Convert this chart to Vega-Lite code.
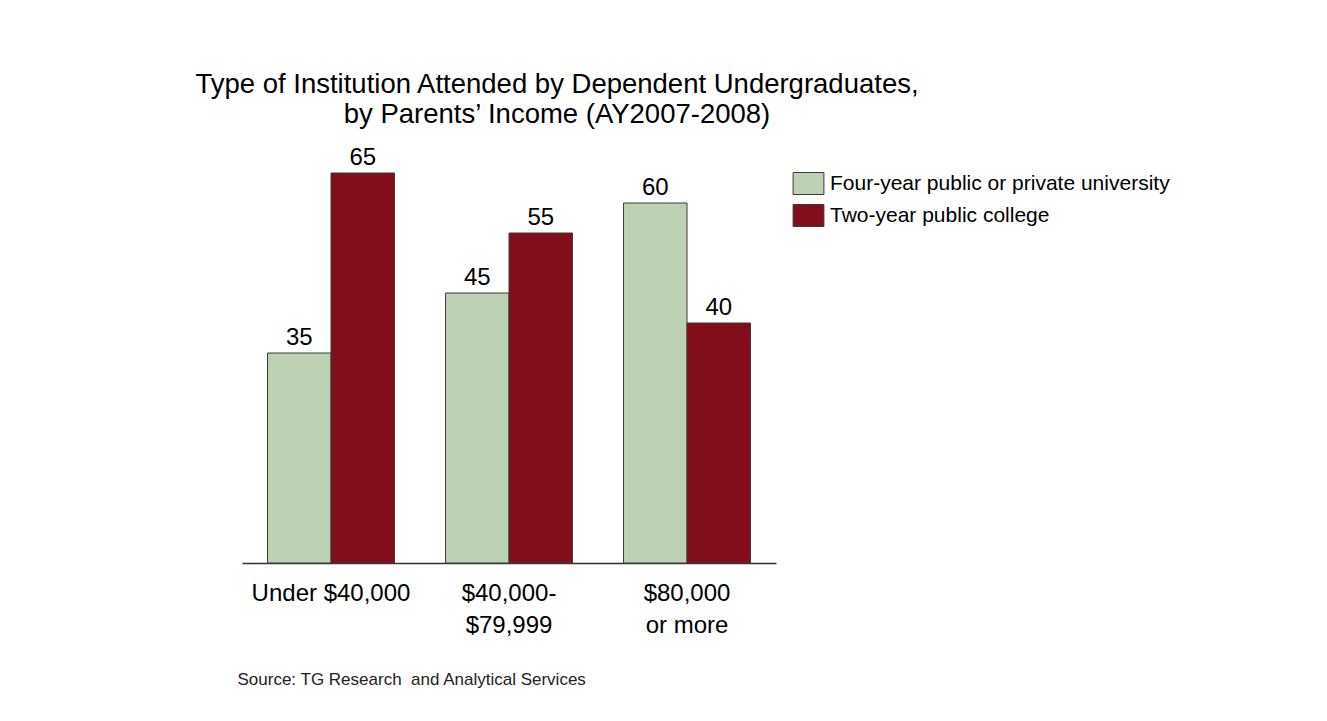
{
  "$schema": "https://vega.github.io/schema/vega-lite/v6.json",
  "autosize": "none",
  "width": 534,
  "height": 420,
  "padding": {"left": 242, "top": 143, "right": 551, "bottom": 158},
  "background": "white",
  "title": {
    "text": ["Type of Institution Attended by Dependent Undergraduates,", "by Parents’ Income (AY2007-2008)"],
    "font": "Liberation Sans",
    "fontSize": 27.5,
    "fontWeight": "normal",
    "color": "#000000",
    "lineHeight": 30,
    "anchor": "middle",
    "frame": "group",
    "dx": 48,
    "offset": 15
  },
  "data": {
    "values": [
      {"income": "Under $40,000", "type": "Four-year public or private university", "value": 35},
      {"income": "Under $40,000", "type": "Two-year public college", "value": 65},
      {"income": "$40,000-\n$79,999", "type": "Four-year public or private university", "value": 45},
      {"income": "$40,000-\n$79,999", "type": "Two-year public college", "value": 55},
      {"income": "$80,000\nor more", "type": "Four-year public or private university", "value": 60},
      {"income": "$80,000\nor more", "type": "Two-year public college", "value": 40}
    ]
  },
  "encoding": {
    "x": {
      "field": "income",
      "type": "nominal",
      "sort": null,
      "scale": {"paddingInner": 0.287, "paddingOuter": 0.1435},
      "axis": {
        "title": "Source: TG Research \u00a0and Analytical Services",
        "titleFont": "Liberation Sans",
        "titleFontSize": 17,
        "titleFontWeight": "normal",
        "titleColor": "#222222",
        "titleAnchor": "start",
        "titleAlign": "left",
        "titleX": -5,
        "titlePadding": 34,
        "labelAngle": 0,
        "labelFont": "Liberation Sans",
        "labelFontSize": 24,
        "labelColor": "#000000",
        "labelLineHeight": 32,
        "labelPadding": 18,
        "labelExpr": "split(datum.label, '\\n')",
        "ticks": false,
        "domainColor": "#333333",
        "domainWidth": 1.5
      }
    },
    "xOffset": {"field": "type", "type": "nominal", "scale": {"paddingInner": 0, "paddingOuter": 0}},
    "y": {
      "field": "value",
      "type": "quantitative",
      "scale": {"domain": [0, 70]},
      "axis": null
    }
  },
  "layer": [
    {
      "mark": {"type": "bar", "stroke": "#3a3a3a", "strokeWidth": 1},
      "encoding": {
        "color": {
          "field": "type",
          "type": "nominal",
          "scale": {
            "domain": ["Four-year public or private university", "Two-year public college"],
            "range": ["#BDD2B5", "#820E1B"]
          },
          "legend": {
            "title": null,
            "orient": "none",
            "legendX": 555,
            "legendY": 29,
            "symbolType": "M-1.4,-1H1.4V1H-1.4Z",
            "symbolSize": 484,
            "symbolStrokeColor": "#3a3a3a",
            "symbolStrokeWidth": 1,
            "labelFont": "Liberation Sans",
            "labelFontSize": 21,
            "labelColor": "#000000",
            "labelOffset": 10,
            "rowPadding": 5,
            "labelLimit": 500
          }
        }
      }
    },
    {
      "mark": {"type": "text", "baseline": "bottom", "dy": -3, "font": "Liberation Sans", "fontSize": 24, "color": "#000000"},
      "encoding": {
        "text": {"field": "value", "type": "quantitative"}
      }
    }
  ],
  "config": {
    "view": {"stroke": null}
  }
}
